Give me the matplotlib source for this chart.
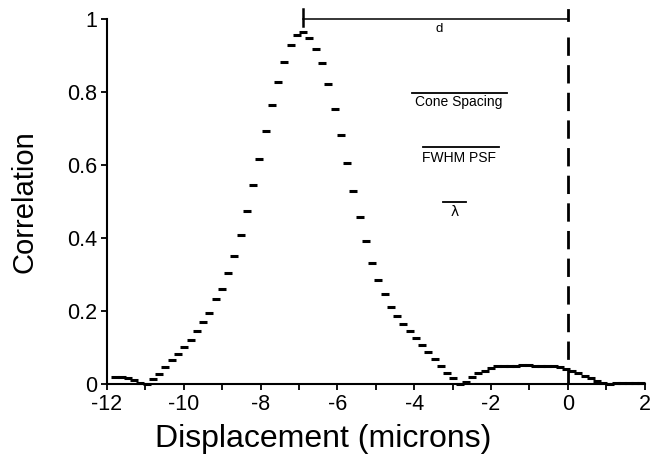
import matplotlib
matplotlib.use("Agg")
import matplotlib.pyplot as plt
from matplotlib.ticker import MultipleLocator

plt.rcParams['font.family'] = ['Liberation Sans', 'DejaVu Sans']

# displacement (microns) of each sample
displacement = [
    -11.78, -11.62, -11.45, -11.29, -11.13, -10.97, -10.80, -10.64, -10.48, -10.31,
    -10.15, -9.99, -9.82, -9.66, -9.50, -9.34, -9.17, -9.01, -8.85, -8.69,
    -8.52, -8.36, -8.19, -8.03, -7.87, -7.71, -7.54, -7.38, -7.22, -7.05,
    -6.89, -6.73, -6.56, -6.40, -6.24, -6.07, -5.91, -5.75, -5.59, -5.42,
    -5.26, -5.10, -4.93, -4.77, -4.61, -4.45, -4.28, -4.12, -3.96, -3.79,
    -3.63, -3.47, -3.30, -3.14, -2.98, -2.81, -2.65, -2.49, -2.33, -2.16,
    -2.00, -1.84, -1.67, -1.51, -1.35, -1.19, -1.02, -0.86, -0.70, -0.53,
    -0.37, -0.21, -0.04, 0.12, 0.28, 0.45, 0.61, 0.77, 0.93, 1.10,
    1.26, 1.42, 1.59, 1.75, 1.91,
]
correlation = [
    0.020, 0.020, 0.016, 0.012, 0.004, 0.002, 0.014, 0.028, 0.047, 0.066,
    0.084, 0.102, 0.122, 0.145, 0.171, 0.195, 0.233, 0.262, 0.304, 0.352,
    0.409, 0.474, 0.546, 0.617, 0.693, 0.765, 0.828, 0.883, 0.929, 0.956,
    0.964, 0.950, 0.919, 0.880, 0.822, 0.753, 0.682, 0.606, 0.530, 0.459,
    0.393, 0.333, 0.285, 0.247, 0.212, 0.186, 0.164, 0.145, 0.126, 0.107,
    0.088, 0.069, 0.050, 0.031, 0.016, 0.001, 0.006, 0.020, 0.032, 0.037,
    0.044, 0.049, 0.051, 0.051, 0.051, 0.052, 0.052, 0.051, 0.051, 0.051,
    0.050, 0.048, 0.042, 0.037, 0.030, 0.023, 0.016, 0.010, 0.004, 0.001,
    0.003, 0.004, 0.004, 0.004, 0.004,
]

peak_x = -6.89
xticks = [-12, -10, -8, -6, -4, -2, 0, 2]
yticks = [0, 0.2, 0.4, 0.6, 0.8, 1]
ytick_labels = ['0', '0.2', '0.4', '0.6', '0.8', '1']

fig = plt.figure(figsize=(6.59, 4.59), dpi=100)
ax = fig.add_axes([0.1624, 0.1627, 0.978 - 0.1624, 0.958 - 0.1627])

ax.plot(displacement, correlation, linestyle='none', marker='_',
        markersize=5.2, markeredgewidth=2.2, color='black', clip_on=False)

# bracket for d and dashed line at zero
ax.plot([peak_x, 0], [1.0, 1.0], color='black', lw=1.1, clip_on=False)
ax.plot([peak_x, peak_x], [1.027, 0.982], color='black', lw=1.8, clip_on=False)
ax.plot([0, 0], [1.026, 0.997], color='black', lw=2.0, clip_on=False)
ax.plot([0, 0], [0.952, 0], color='black', lw=2.0, dashes=(6.6, 3.35),
        clip_on=False)
ax.text(-3.36, 0.973, 'd', ha='center', va='center', fontsize=9.5)

# fraction-style labels
labels = [('Cone Spacing', -2.85, 0.774, -4.05, -1.57, 0.799),
          ('FWHM PSF', -2.82, 0.621, -3.78, -1.80, 0.651),
          ('λ', -2.95, 0.473, -3.26, -2.64, 0.4995)]
for txt, tx, ty, x0, x1, by in labels:
    ax.text(tx, ty, txt, ha='center', va='center', fontsize=10,
            family=['DejaVu Sans'] if txt == 'λ' else None)
    ax.plot([x0, x1], [by, by], color='black', lw=1.3)

ax.set_xlim(-12, 2)
ax.set_ylim(0, 1)
ax.set_xticks(xticks)
ax.set_xticklabels([str(t) for t in xticks])
ax.xaxis.set_minor_locator(MultipleLocator(1))
ax.set_yticks(yticks)
ax.set_yticklabels(ytick_labels)

for s in ['top', 'right']:
    ax.spines[s].set_visible(False)
for s in ['left', 'bottom']:
    ax.spines[s].set_linewidth(1.5)
ax.tick_params(which='major', direction='out', length=4, width=1.3,
               labelsize=15.5, pad=3)
ax.tick_params(which='minor', direction='out', length=4, width=1.3)

ax.set_xlabel('Displacement (microns)', fontsize=23)
ax.xaxis.set_label_coords(0.402, -0.11)
ax.set_ylabel('Correlation', fontsize=21)
ax.yaxis.set_label_coords(-0.128, 0.5)

fig.savefig('out.png', dpi=100)
